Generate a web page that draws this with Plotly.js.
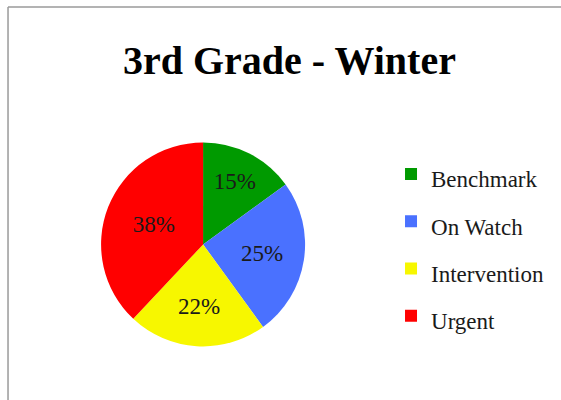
<!DOCTYPE html>
<html>
<head>
<meta charset="utf-8">
<script src="https://cdn.plot.ly/plotly-3.0.1.min.js"></script>
<style>
  html, body { margin: 0; padding: 0; background: #ffffff; }
  #chart { width: 561px; height: 400px; }
</style>
</head>
<body>
<div id="chart"></div>
<script>
// values
const categories = ['Benchmark', 'On Watch', 'Intervention', 'Urgent'];
const shares = [15, 25, 22, 38];
const sliceColors = ['#009a00', '#4a71ff', '#f7f700', '#ff0000'];

const serif = '"Liberation Serif", "DejaVu Serif", serif';

// legend labels carry their own size; the bigger legend font only spreads the rows apart
const legendLabels = categories.map(c => `<span style="font-size:23px">${c}</span>`);

const pieTrace = {
    type: 'pie',
    labels: legendLabels,
    values: shares,
    sort: false,
    direction: 'clockwise',
    rotation: 0,
    marker: { colors: sliceColors, line: { width: 0 } },
    textinfo: 'percent',
    textposition: 'inside',
    insidetextorientation: 'horizontal',
    textfont: { family: serif, size: 23, color: '#1a1a1a' },
    hoverinfo: 'label+percent',
    domain: { x: [0.180, 0.544], y: [0.134, 0.644] }
};

const layout = {
    width: 561,
    height: 400,
    margin: { l: 0, r: 0, t: 0, b: 0 },
    paper_bgcolor: '#ffffff',
    title: {
        text: '<b>3rd Grade - Winter</b>',
        font: { family: serif, size: 40, color: '#000000' },
        x: 0.516,
        xanchor: 'center',
        y: 0.85,
        yanchor: 'middle'
    },
    showlegend: true,
    legend: {
        x: 0.697,
        xanchor: 'left',
        y: 0.3875,
        yanchor: 'middle',
        font: { family: serif, size: 34, color: '#1a1a1a' },
        bgcolor: 'rgba(0,0,0,0)'
    },
    shapes: [
        { type: 'line', xref: 'paper', yref: 'paper', x0: 0.0143, x1: 1.0, y0: 0.9825, y1: 0.9825,
          line: { color: '#9a9a9a', width: 1.5 } },
        { type: 'line', xref: 'paper', yref: 'paper', x0: 0.0143, x1: 0.0143, y0: 0, y1: 0.9825,
          line: { color: '#9a9a9a', width: 1.5 } }
    ]
};

Plotly.newPlot('chart', [pieTrace], layout, { displayModeBar: false, responsive: false });
</script>
</body>
</html>
